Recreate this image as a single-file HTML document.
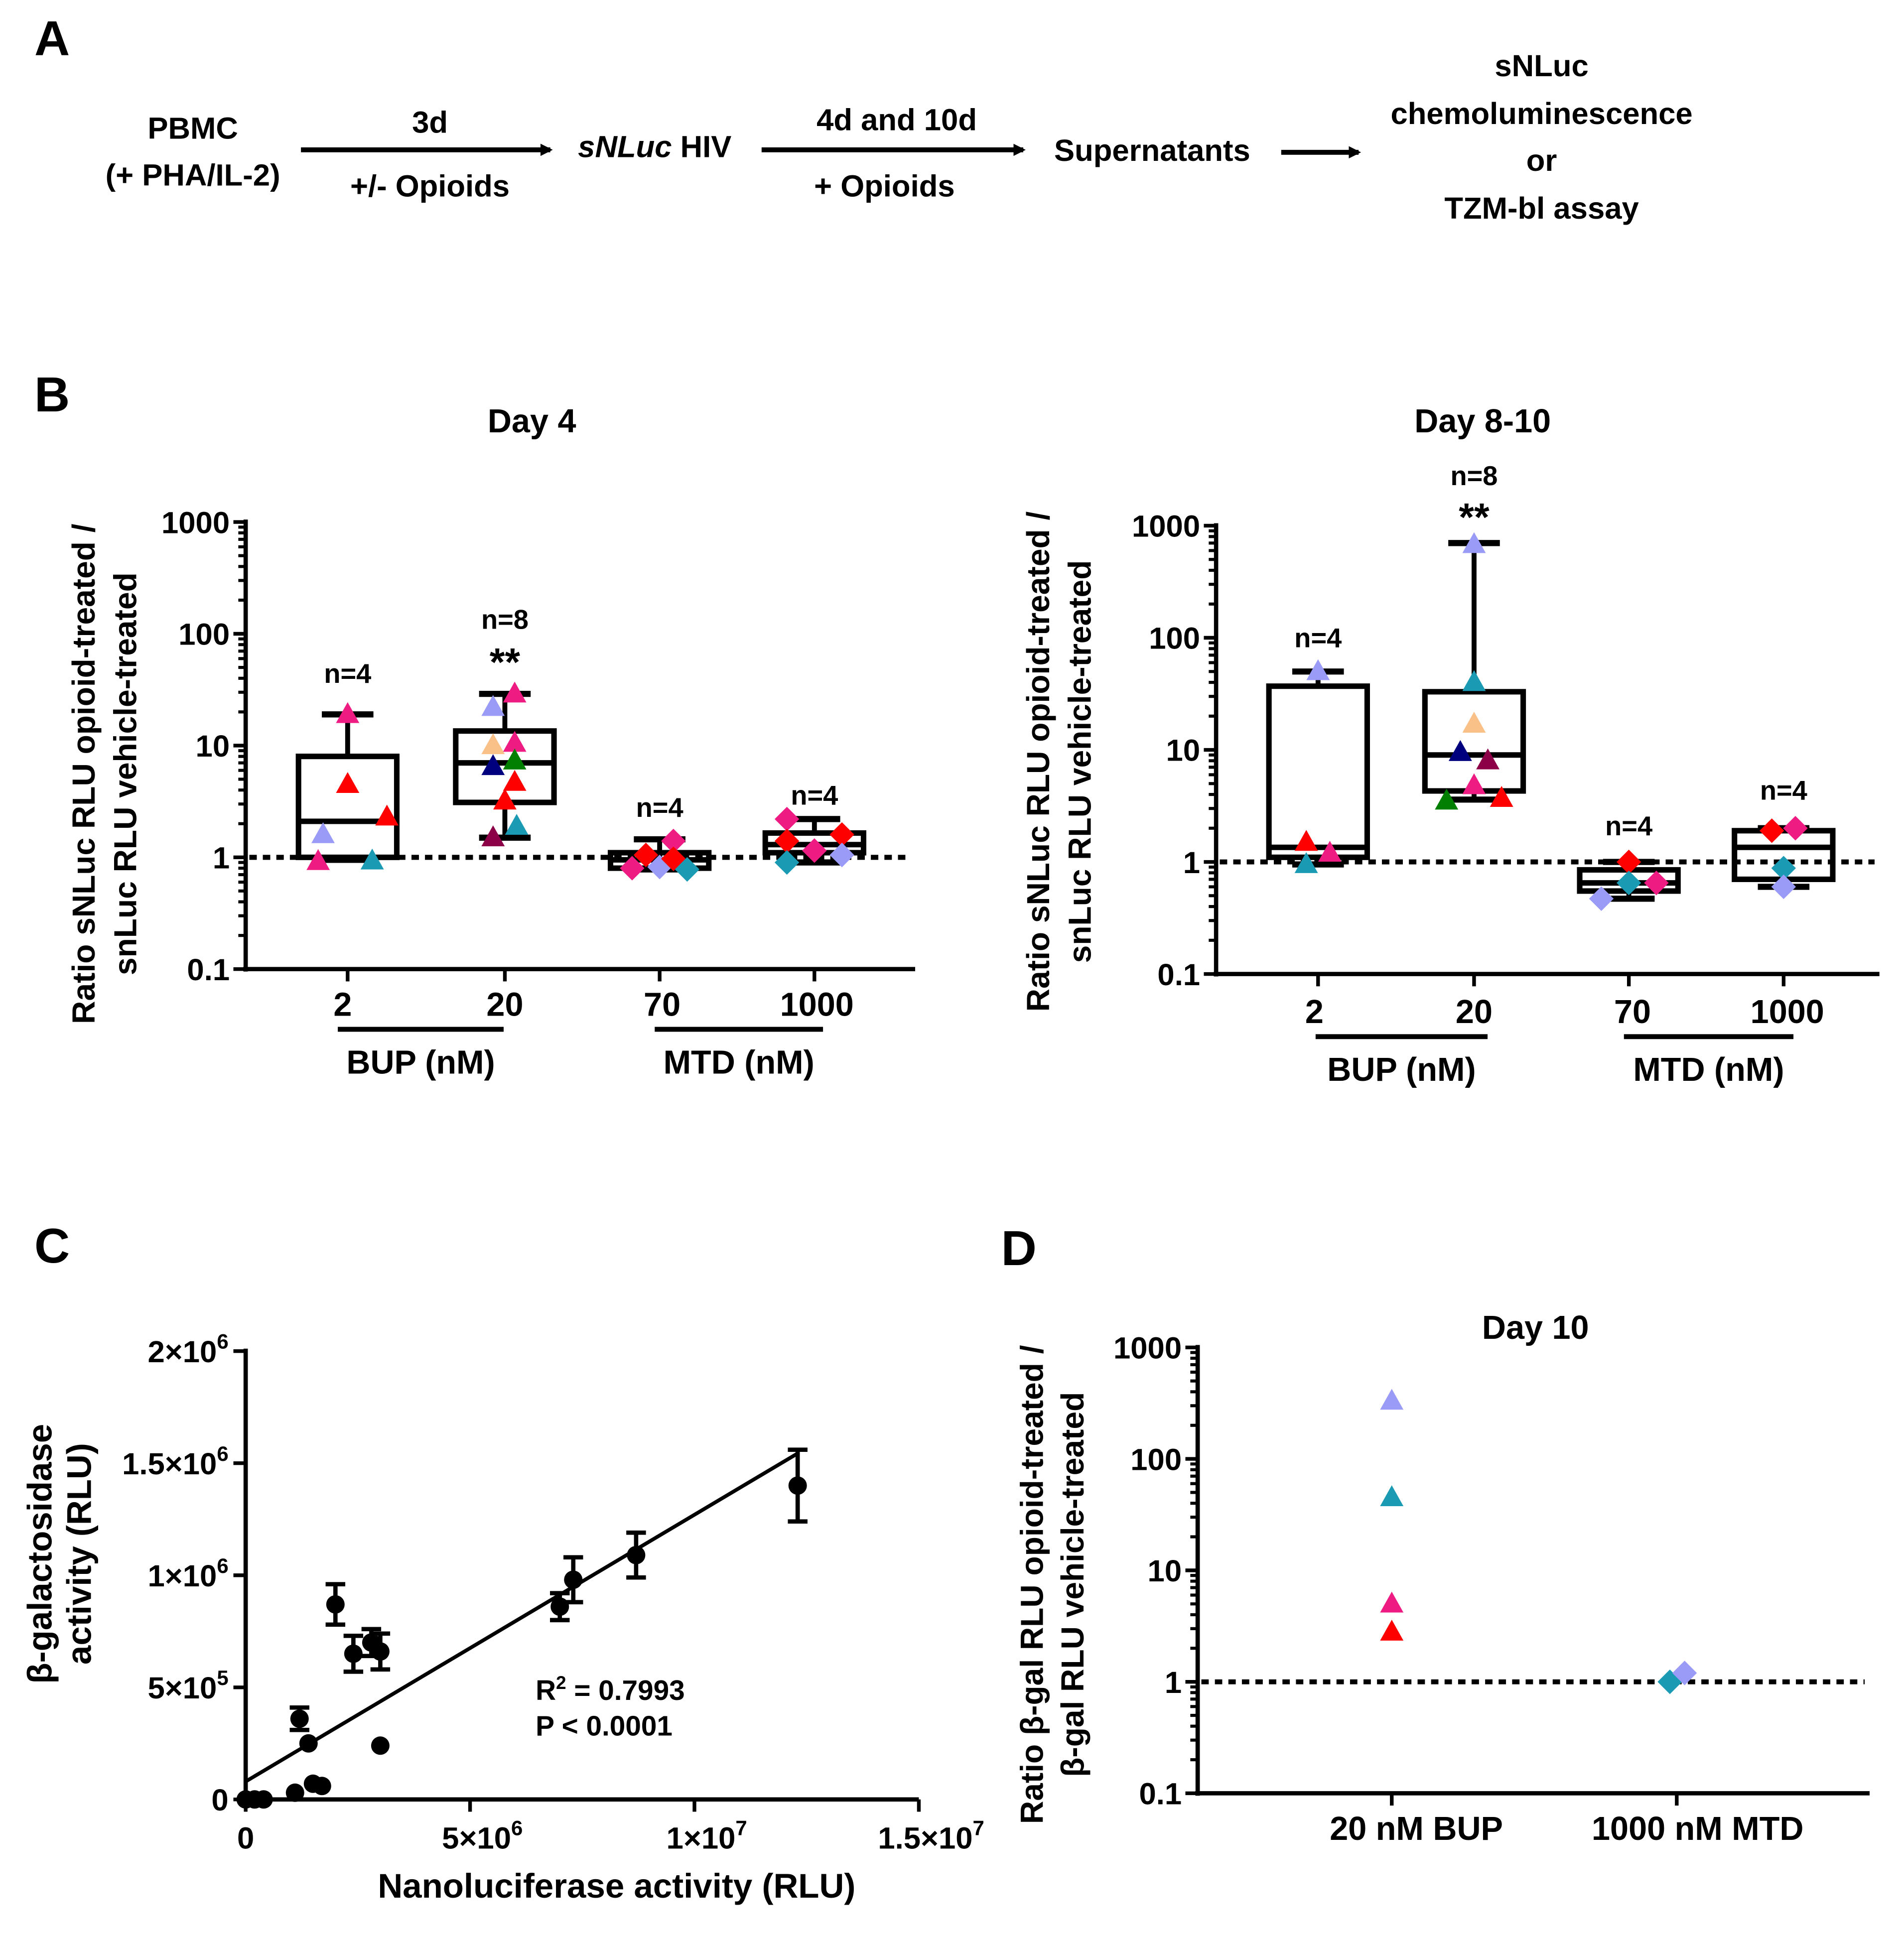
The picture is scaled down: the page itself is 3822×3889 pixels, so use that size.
<!DOCTYPE html>
<html><head><meta charset="utf-8"><style>
html,body{margin:0;padding:0;background:#fff}
svg{display:block}
text{font-family:"Liberation Sans",sans-serif;font-weight:bold;fill:#000}
</style></head><body>
<svg id="fig" width="3822" height="3889" viewBox="0 0 1550 1577" preserveAspectRatio="none" xmlns="http://www.w3.org/2000/svg">
<defs>
<marker id="ah" markerWidth="10" markerHeight="10" refX="8" refY="5" orient="auto" markerUnits="userSpaceOnUse"><path d="M0,0 L10,5 L0,10 z" fill="#000"/></marker>
</defs>
<g font-size="25">
<text x="28" y="45" font-size="40">A</text>
<text x="157" y="113" text-anchor="middle">PBMC</text>
<text x="157" y="151" text-anchor="middle">(+ PHA/IL-2)</text>
<line x1="245" y1="122" x2="448" y2="122" stroke="#000" stroke-width="4" marker-end="url(#ah)"/>
<text x="350" y="108" text-anchor="middle">3d</text>
<text x="350" y="160" text-anchor="middle">+/- Opioids</text>
<text x="533" y="128" text-anchor="middle"><tspan font-style="italic">sNLuc</tspan> HIV</text>
<line x1="620" y1="122" x2="833" y2="122" stroke="#000" stroke-width="4" marker-end="url(#ah)"/>
<text x="730" y="106" text-anchor="middle">4d and 10d</text>
<text x="720" y="160" text-anchor="middle">+ Opioids</text>
<text x="938" y="131" text-anchor="middle">Supernatants</text>
<line x1="1043" y1="124" x2="1106" y2="124" stroke="#000" stroke-width="4" marker-end="url(#ah)"/>
<text x="1255" y="62" text-anchor="middle">sNLuc</text>
<text x="1255" y="101" text-anchor="middle">chemoluminescence</text>
<text x="1255" y="139" text-anchor="middle">or</text>
<text x="1255" y="178" text-anchor="middle">TZM-bl assay</text>
</g>
<text x="28" y="335" font-size="40">B</text>
<text x="28" y="1028" font-size="40">C</text>
<text x="815" y="1030" font-size="40">D</text>
<g id="root"></g>
</svg>
<script>
// ---- Data ----
const catLabels = ["2","20","70","1000"];
const nLabelsD4 = ["n=4","n=8","n=4","n=4"];
const nLabelsD8 = ["n=4","n=8","n=4","n=4"];
// box stats: [whiskerLow, q1, median, q3, whiskerHigh]
const boxD4 = [[0.95,1.0,2.1,8,19],[1.5,3.1,7,13.5,29],[0.78,0.8,0.95,1.1,1.45],[0.9,1.1,1.3,1.65,2.2]];
const boxD8 = [[0.95,1.1,1.35,37,50],[3.6,4.3,9,33,700],[0.47,0.55,0.65,0.85,1.0],[0.6,0.7,1.35,1.9,2.0]];
// points: [category, value, colour key, offset, shape]
const ptsD4 = [
 [0,19,"pink",0,"t"],[0,4.5,"red",0,"t"],[0,2.3,"red",0.4,"t"],[0,1.6,"lav",-0.25,"t"],[0,0.92,"pink",-0.3,"t"],[0,0.93,"teal",0.25,"t"],
 [1,22,"lav",-0.12,"t"],[1,29,"pink",0.1,"t"],[1,10,"peach",-0.12,"t"],[1,10.5,"pink",0.1,"t"],[1,6.5,"navy",-0.12,"t"],[1,7.3,"green",0.1,"t"],[1,4.7,"red",0.1,"t"],[1,3.2,"red",0,"t"],[1,1.5,"maroon",-0.12,"t"],[1,1.9,"teal",0.12,"t"],
 [2,0.8,"pink",-0.28,"d"],[2,1.05,"red",-0.14,"d"],[2,0.82,"lav",0,"d"],[2,1.4,"pink",0.14,"d"],[2,0.97,"red",0.14,"d"],[2,0.78,"teal",0.28,"d"],
 [3,2.2,"pink",-0.28,"d"],[3,1.4,"red",-0.28,"d"],[3,0.9,"teal",-0.28,"d"],[3,1.15,"pink",0,"d"],[3,1.6,"red",0.28,"d"],[3,1.05,"lav",0.28,"d"]
];
const ptsD8 = [
 [0,50,"lav",0,"t"],[0,1.5,"red",-0.12,"t"],[0,1.2,"pink",0.12,"t"],[0,0.95,"teal",-0.12,"t"],
 [1,680,"lav",0,"t"],[1,40,"teal",0,"t"],[1,17,"peach",0,"t"],[1,9.5,"navy",-0.14,"t"],[1,8,"maroon",0.14,"t"],[1,4.8,"pink",0,"t"],[1,3.5,"green",-0.28,"t"],[1,3.7,"red",0.28,"t"],
 [2,1.0,"red",0,"d"],[2,0.65,"teal",0,"d"],[2,0.65,"pink",0.28,"d"],[2,0.47,"lav",-0.28,"d"],
 [3,1.9,"red",-0.12,"d"],[3,2.0,"pink",0.12,"d"],[3,0.88,"teal",0,"d"],[3,0.6,"lav",0,"d"]
];
const logTicks = [1000,100,10,1,0.1];
const logTickLabels = ["1000","100","10","1","0.1"];
// Panel C
const cX = [12.3,8.7,7.3,7.0,2.0,2.4,2.8,3.0,1.2,1.4,3.0,1.5,1.7,1.1,0.0,0.2,0.4]; // x 1e6
const cY = [14.0,10.9,9.8,8.6,8.7,6.5,7.0,6.6,3.6,2.5,2.4,0.7,0.6,0.3,0.0,0.0,0.0]; // y 1e5
const cErr = [1.6,1.0,1.0,0.6,0.9,0.8,0.6,0.8,0.5,0,0,0,0,0,0,0,0];
const fitIntercept = 0.8; // 1e5
const fitX = [0,12.3];
const slope = 1.19; // 1e5 per 1e6
const cXTicks = [0,5,10,15];
const cXTickLabels = [["0",""],["5×10","6"],["1×10","7"],["1.5×10","7"]];
const cYTicks = [0,5,10,15,20];
const cYTickLabels = [["0",""],["5×10","5"],["1×10","6"],["1.5×10","6"],["2×10","6"]];
// Panel D
const dCats = ["20 nM BUP","1000 nM MTD"];
const ptsD10 = [[0,330,"lav",0,"t"],[0,45,"teal",0,"t"],[0,5,"pink",0,"t"],[0,2.8,"red",0,"t"],[1,1.0,"teal",-0.07,"d"],[1,1.2,"lav",0.08,"d"]];

const COL = {pink:"#ee1c82",red:"#ff0000",lav:"#9a9af7",teal:"#1b9bb3",peach:"#f9c088",navy:"#00007f",green:"#007f00",maroon:"#8b0047"};
const NS="http://www.w3.org/2000/svg";
const root=document.getElementById('root');
function mk(tag,attrs,parent){const e=document.createElementNS(NS,tag);for(const k in attrs)e.setAttribute(k,attrs[k]);(parent||root).appendChild(e);return e;}
function txt(s,x,y,size,anchor,parent){const t=mk('text',{x:x,y:y,'font-size':size,'text-anchor':anchor||'middle'},parent);t.textContent=s;return t;}

function marker(g,shape,cx,cy,col,sz){
  let e;
  if(shape==='t'){e=mk('polygon',{points:`${cx},${cy-sz} ${cx-sz*0.95},${cy+sz*0.7} ${cx+sz*0.95},${cy+sz*0.7}`,fill:col},g);}
  else {e=mk('polygon',{points:`${cx},${cy-sz} ${cx+sz},${cy} ${cx},${cy+sz} ${cx-sz},${cy}`,fill:col},g);}
  return e;
}

function logPanel(cfg){
  const g=mk('g',{});
  
  
  const y=v=>cfg.y0-(Math.log10(v)+1)*(cfg.y0-cfg.y3)/4;
  const xc=i=>cfg.xs[i];
  const ax=mk('line',{x1:cfg.ax,y1:cfg.y3-2,x2:cfg.ax,y2:cfg.y0+2,stroke:'#000','stroke-width':3.5},g);
  
  
  const bx=mk('line',{x1:cfg.ax-2,y1:cfg.y0,x2:cfg.axEnd,y2:cfg.y0,stroke:'#000','stroke-width':3.5},g);
  
  
  logTicks.forEach((v,i)=>{
    mk('line',{x1:cfg.ax-10,y1:y(v),x2:cfg.ax,y2:y(v),stroke:'#000','stroke-width':3},g);
    const t=txt(logTickLabels[i],cfg.ax-13,y(v)+9,25,'end',g);
    
    
    if(v<1000){for(let m=2;m<=9;m++){const yy=y(v*m);mk('line',{x1:cfg.ax-6,y1:yy,x2:cfg.ax,y2:yy,stroke:'#000','stroke-width':2.5},g);}}
  });
  const dl=mk('line',{x1:cfg.ax+3,y1:y(1),x2:cfg.axEnd-4,y2:y(1),stroke:'#000','stroke-width':4,'stroke-dasharray':'6,5'},g);
  
  
  if(cfg.title){const tt=txt(cfg.title,cfg.titleX,cfg.titleY,27,'middle',g);}
  cfg.ylab.forEach((s,i)=>{const t=mk('text',{x:0,y:0,'font-size':26,'text-anchor':'middle',transform:`translate(${cfg.ylabX[i]},${cfg.ylabY}) rotate(-90)`},g);t.textContent=s;
    });
  if(cfg.box){cfg.box.forEach((b,i)=>{
    const bg=mk('g',{},g);
    
    
    const x=xc(i),hw=cfg.hw,cw=cfg.cw;
    mk('line',{x1:x,y1:y(b[0]),x2:x,y2:y(b[4]),stroke:'#000','stroke-width':4},bg);
    mk('line',{x1:x-cw,y1:y(b[0]),x2:x+cw,y2:y(b[0]),stroke:'#000','stroke-width':5},bg);
    mk('line',{x1:x-cw,y1:y(b[4]),x2:x+cw,y2:y(b[4]),stroke:'#000','stroke-width':5},bg);
    mk('rect',{x:x-hw,y:y(b[3]),width:2*hw,height:y(b[1])-y(b[3]),fill:'#fff',stroke:'#000','stroke-width':4.5},bg);
    mk('line',{x1:x-hw,y1:y(b[2]),x2:x+hw,y2:y(b[2]),stroke:'#000','stroke-width':4.5},bg);
  });
  const dl2=mk('line',{x1:cfg.ax+3,y1:y(1),x2:cfg.axEnd-4,y2:y(1),stroke:'#000','stroke-width':4,'stroke-dasharray':'6,5'},g);
  
  
  }
  cfg.pts.forEach(p=>{
    const m=marker(g,p[4],xc(p[0])+p[3]*cfg.hw*2,y(p[1]),COL[p[2]],10);
    
    
  });
  cfg.xs.forEach((x,i)=>{
    mk('line',{x1:x,y1:cfg.y0,x2:x,y2:cfg.y0+10,stroke:'#000','stroke-width':3},g);
    const t=txt(cfg.xlabels[i],x+(cfg.xlabOff?cfg.xlabOff[i]:0),cfg.y0+cfg.xlabDy,27,'middle',g);
    
    
  });
  if(cfg.n){cfg.box.forEach((b,i)=>{
    const t=txt(cfg.n[i],xc(i),cfg.nY[i],22,'middle',g);
    
  });
  cfg.stars.forEach(s=>{const t=txt('**',xc(s[0]),s[1],32,'middle',g);});
  }
  if(cfg.groups){cfg.groups.forEach(gr=>{
    const l=mk('line',{x1:gr[0],y1:gr[2],x2:gr[1],y2:gr[2],stroke:'#000','stroke-width':4},g);
    
    const t=txt(gr[3],(gr[0]+gr[1])/2,gr[2]+36,27,'middle',g);
    
  });}
}

logPanel({name:'chart-day4',ax:200,axEnd:745,y0:789,y3:425,xs:[283,411,537,663],hw:40,cw:21,
  xlabels:catLabels,xlabOff:[-4,0,2,2],xlabDy:38,title:'Day 4',titleX:433,titleY:352,
  ylab:['Ratio sNLuc RLU opioid-treated /','snLuc RLU vehicle-treated'],ylabX:[77,111],ylabY:630,
  box:boxD4,pts:ptsD4,n:nLabelsD4,nY:[556,512,665,655],stars:[[1,550]],
  groups:[[275,410,838,'BUP (nM)'],[533,670,838,'MTD (nM)']]});
logPanel({name:'chart-day8-10',ax:990,axEnd:1530,y0:793,y3:428,xs:[1073,1200,1326,1452],hw:40,cw:21,
  xlabels:catLabels,xlabOff:[-3,0,3,3],xlabDy:40,title:'Day 8-10',titleX:1207,titleY:352,
  ylab:['Ratio sNLuc RLU opioid-treated /','snLuc RLU vehicle-treated'],ylabX:[854,888],ylabY:620,
  box:boxD8,pts:ptsD8,n:nLabelsD8,nY:[527,395,680,651],stars:[[1,432]],
  groups:[[1071,1211,844,'BUP (nM)'],[1322,1460,844,'MTD (nM)']]});
logPanel({name:'chart-day10',ax:975,axEnd:1522,y0:1460,y3:1097,xs:[1133,1365],hw:40,cw:20,
  xlabels:dCats,xlabOff:[20,17],xlabDy:38,title:'Day 10',titleX:1250,titleY:1090,
  ylab:['Ratio β-gal RLU opioid-treated /','β-gal RLU vehicle-treated'],ylabX:[849,882],ylabY:1290,
  pts:ptsD10});

(function(){
  const g=mk('g',{});
  
  
  const X0=200,X1=748,Y0=1465,Y1=1100;
  const sx=v=>X0+v/15*(X1-X0);
  const sy=v=>Y0-v/20*(Y0-Y1);
  const ya=mk('line',{x1:X0,y1:Y1-2,x2:X0,y2:Y0+2,stroke:'#000','stroke-width':3.5},g);
  
  const xa=mk('line',{x1:X0-2,y1:Y0,x2:X1,y2:Y0,stroke:'#000','stroke-width':3.5},g);
  
  cYTicks.forEach((v,i)=>{mk('line',{x1:X0-10,y1:sy(v),x2:X0,y2:sy(v),stroke:'#000','stroke-width':3},g);
    const t=mk('text',{x:X0-14,y:sy(v)+9,'font-size':25,'text-anchor':'end'},g);
    
    const a=mk('tspan',{},t);a.textContent=cYTickLabels[i][0];
    if(cYTickLabels[i][1]){const b=mk('tspan',{dy:-11,'font-size':17},t);b.textContent=cYTickLabels[i][1];}});
  cXTicks.forEach((v,i)=>{mk('line',{x1:sx(v),y1:Y0,x2:sx(v),y2:Y0+10,stroke:'#000','stroke-width':3},g);
    const t=mk('text',{x:sx(v)+(i?10:0),y:Y0+40,'font-size':25,'text-anchor':'middle'},g);
    
    const a=mk('tspan',{},t);a.textContent=cXTickLabels[i][0];
    if(cXTickLabels[i][1]){const b=mk('tspan',{dy:-11,'font-size':17},t);b.textContent=cXTickLabels[i][1];}});
  const fl=mk('line',{x1:sx(fitX[0]),y1:sy(fitIntercept),x2:sx(fitX[1]),y2:sy(fitIntercept+slope*fitX[1]),stroke:'#000','stroke-width':3},g);
  
  cX.forEach((x,i)=>{
    const px=sx(x),py=sy(cY[i]);
    if(cErr[i]>0){
      const e=cErr[i];
      mk('line',{x1:px,y1:sy(cY[i]-e),x2:px,y2:sy(cY[i]+e),stroke:'#000','stroke-width':3.5},g);
      mk('line',{x1:px-8,y1:sy(cY[i]-e),x2:px+8,y2:sy(cY[i]-e),stroke:'#000','stroke-width':3.5},g);
      mk('line',{x1:px-8,y1:sy(cY[i]+e),x2:px+8,y2:sy(cY[i]+e),stroke:'#000','stroke-width':3.5},g);
    }
    const c=mk('circle',{cx:px,cy:py,r:7.5,fill:'#000'},g);
    
    
  });
  const r=mk('text',{x:436,y:1384,'font-size':23,'text-anchor':'start'},g);
  
  r.innerHTML='R<tspan dy="-9" font-size="15">2</tspan><tspan dy="9"> = 0.7993</tspan>';
  const p=txt('P < 0.0001',436,1413,23,'start',g);
  
  const xt=txt('Nanoluciferase activity (RLU)',502,1545,28,'middle',g);
  
  [['β-galactosidase',42],['activity (RLU)',74]].forEach(a=>{const t=mk('text',{x:0,y:0,'font-size':28,'text-anchor':'middle',transform:`translate(${a[1]},1265) rotate(-90)`},g);t.textContent=a[0];
    });
})();
</script>
</body></html>
